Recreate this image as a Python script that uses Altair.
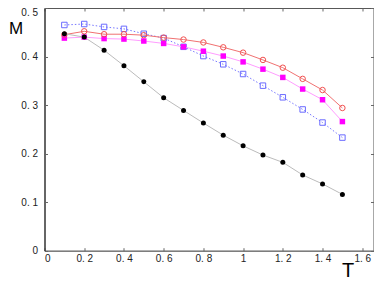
import altair as alt
import pandas as pd

T = [0.1, 0.2, 0.3, 0.4, 0.5, 0.6, 0.7, 0.8, 0.9, 1.0, 1.1, 1.2, 1.3, 1.4, 1.5]
black = [0.447, 0.440, 0.413, 0.381, 0.348, 0.315, 0.289, 0.263, 0.238, 0.216, 0.197, 0.182, 0.156, 0.1375, 0.116]
red = [0.445, 0.452, 0.446, 0.446, 0.444, 0.439, 0.435, 0.429, 0.419, 0.408, 0.393, 0.377, 0.354, 0.331, 0.294]
magenta = [0.438, 0.440, 0.437, 0.436, 0.432, 0.427, 0.420, 0.411, 0.401, 0.389, 0.374, 0.357, 0.333, 0.311, 0.266]
blue = [0.465, 0.467, 0.461, 0.457, 0.447, 0.438, 0.420, 0.401, 0.384, 0.364, 0.340, 0.316, 0.291, 0.264, 0.233]

x_ticks = [0, 0.2, 0.4, 0.6, 0.8, 1.0, 1.2, 1.4, 1.6]
y_ticks = [0, 0.1, 0.2, 0.3, 0.4, 0.5]

rows = []
for name, vals in [("black", black), ("red", red), ("magenta", magenta), ("blue", blue)]:
    for t, m in zip(T, vals):
        rows.append({"T": t, "M": m, "s": name})
df = pd.DataFrame(rows)

W, H = 329, 242.7
FONT = "Liberation Sans"
LBL = "replace(format(datum.value, '~g'), '.', '. ')"
xs = alt.Scale(domain=[0, 1.6566], nice=False, zero=False)
ys = alt.Scale(domain=[0, 0.5], nice=False)

main_x = alt.Axis(values=x_ticks, labelExpr=LBL, ticks=False,
                  domain=True, domainColor="#777", grid=False, title="T", titleFontSize=20,
                  titleFontWeight="normal", titleFont=FONT, titleX=303, titleY=25.5,
                  titleBaseline="alphabetic", titleAlign="center", labelFont=FONT,
                  labelFontSize=10, labelColor="#222", labelPadding=3, titleColor="#000")
main_y = alt.Axis(values=y_ticks, labelExpr=LBL, ticks=False,
                  domain=True, domainColor="#222", grid=False, title="M", titleFontSize=17,
                  titleFontWeight="normal", titleFont=FONT, titleAngle=0, titleX=-29, titleY=26,
                  titleBaseline="alphabetic", titleAlign="center", labelFont=FONT,
                  labelFontSize=10, labelColor="#222", labelPadding=7, titleColor="#000",
                  labelBaseline={"condition": {"test": "datum.value >= 0.5", "value": "top"},
                                 "value": "middle"})


def tick_axis(orient, offset, vals):
    return alt.Axis(orient=orient, offset=offset, values=vals, labels=False, domain=False,
                    ticks=True, tickSize=3, tickColor="#666", grid=False, title=None)


def series(name, line_kw, point_kw):
    base = alt.Chart(df).transform_filter(alt.datum.s == name)
    ln = base.mark_line(**line_kw).encode(
        x=alt.X("T:Q", scale=xs, axis=None), y=alt.Y("M:Q", scale=ys, axis=None))
    pt = base.mark_point(**point_kw).encode(
        x=alt.X("T:Q", scale=xs, axis=None), y=alt.Y("M:Q", scale=ys, axis=None))
    return [ln, pt]


axes_main = alt.Chart(df).mark_point(opacity=0).encode(
    x=alt.X("T:Q", scale=xs, axis=main_x), y=alt.Y("M:Q", scale=ys, axis=main_y))
axes_in1 = alt.Chart(df).mark_point(opacity=0).encode(
    x=alt.X("T:Q", scale=xs, axis=tick_axis("top", -H, x_ticks)),
    y=alt.Y("M:Q", scale=ys, axis=tick_axis("right", -W, y_ticks)))
axes_in2 = alt.Chart(df).mark_point(opacity=0).encode(
    x=alt.X("T:Q", scale=xs, axis=tick_axis("bottom", -H, x_ticks)),
    y=alt.Y("M:Q", scale=ys, axis=tick_axis("left", -W, y_ticks)))

layers = [axes_main, axes_in1, axes_in2]
layers += series("blue", dict(color="#7777ff", strokeWidth=1, strokeDash=[1.5, 2]),
                 dict(shape="square", filled=False, color="#6a6aff", size=30, strokeWidth=1, opacity=1))
layers += series("magenta", dict(color="#ff9cff", strokeWidth=1),
                 dict(shape="square", filled=True, color="#ff00ff", size=30, opacity=1))
layers += series("red", dict(color="#f07070", strokeWidth=1),
                 dict(shape="circle", filled=False, color="#f05050", size=30, strokeWidth=1, opacity=1))
layers += series("black", dict(color="#bbbbbb", strokeWidth=1),
                 dict(shape="circle", filled=True, color="#000000", size=25, opacity=1))

chart = alt.layer(*layers).resolve_axis(x="independent", y="independent").properties(
    width=W, height=H, autosize=alt.AutoSizeParams(type="none"),
    padding={"left": 36.5, "top": 0, "right": 0.5, "bottom": 31},
    background="white",
).configure_view(stroke="#555", strokeWidth=1)

chart.save("out.html", embed_options={"renderer": "svg", "actions": False})
